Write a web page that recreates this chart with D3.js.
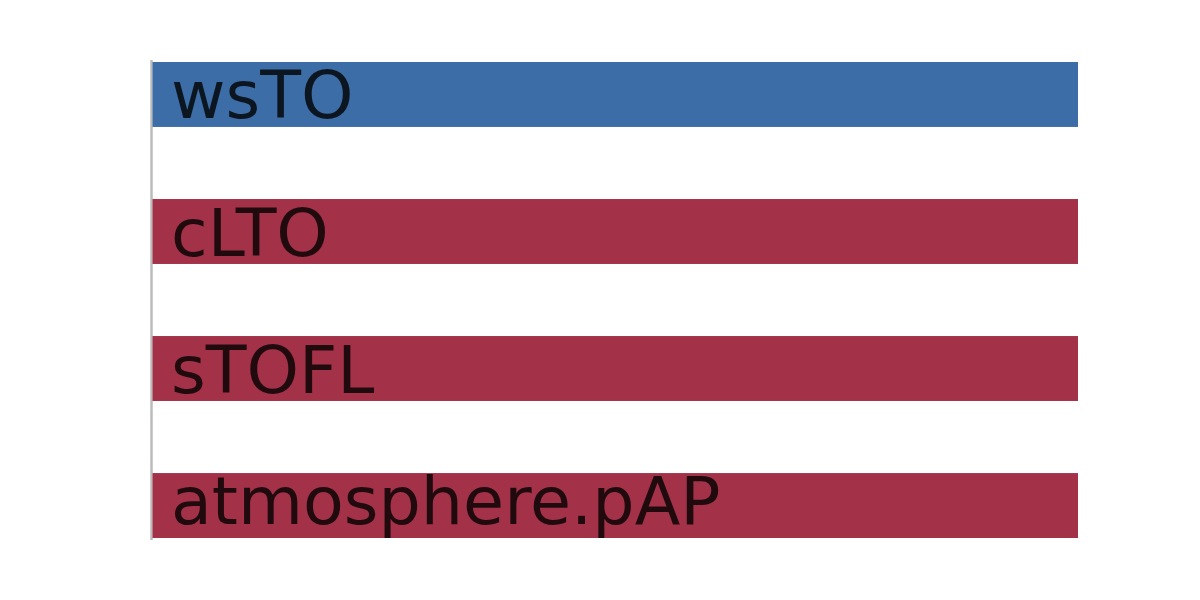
<!DOCTYPE html>
<html>
<head>
<meta charset="utf-8">
<script src="https://cdn.jsdelivr.net/npm/d3@7/dist/d3.min.js"></script>
<style>
  html, body { margin: 0; padding: 0; background: #fff; }
  svg { display: block; }
</style>
</head>
<body>
<svg id="chart" width="1200" height="600"></svg>
<script>
const categories = ["wsTO", "cLTO", "sTOFL", "atmosphere.pAP"];
const values = [1, 1, 1, 1];
const groups = ["blue", "red", "red", "red"];
const groupColors = { blue: "#3d6da6", red: "#a33249" };

(function () {
  const svg = d3.select("#chart");
  const plotLeft = 152.5, plotRight = 1078, plotTop = 62, plotBottom = 538;
  const areaTop = 60, areaBottom = 540;
  const fontSize = 66.7;

  const x = d3.scaleLinear().domain([0, d3.max(values)]).range([plotLeft, plotRight]);
  const y = d3.scaleBand().domain(categories).range([plotTop, plotBottom]).paddingInner(0.526).paddingOuter(0);

  const data = categories.map((c, i) => ({ cat: c, val: values[i], grp: groups[i] }));

  svg.append("line")
    .attr("x1", 151.5).attr("x2", 151.5)
    .attr("y1", areaTop).attr("y2", areaBottom)
    .attr("stroke", "#bbbbbb").attr("stroke-width", 2.5);

  svg.selectAll("rect.bar").data(data).enter().append("rect")
    .attr("class", "bar")
    .attr("x", x(0))
    .attr("y", d => y(d.cat))
    .attr("width", d => x(d.val) - x(0))
    .attr("height", y.bandwidth())
    .attr("fill", d => groupColors[d.grp]);

  svg.selectAll("text.lbl").data(data).enter().append("text")
    .attr("class", "lbl")
    .attr("x", x(0) + 18.5)
    .attr("y", d => Math.min(y(d.cat) + y.bandwidth() / 2 + 0.36 * fontSize, areaBottom - 0.236 * fontSize))
    .attr("font-family", "DejaVu Sans")
    .attr("font-size", fontSize)
    .attr("fill", "#000")
    .attr("fill-opacity", 0.8)
    .text(d => d.cat);
})();
</script>
</body>
</html>
